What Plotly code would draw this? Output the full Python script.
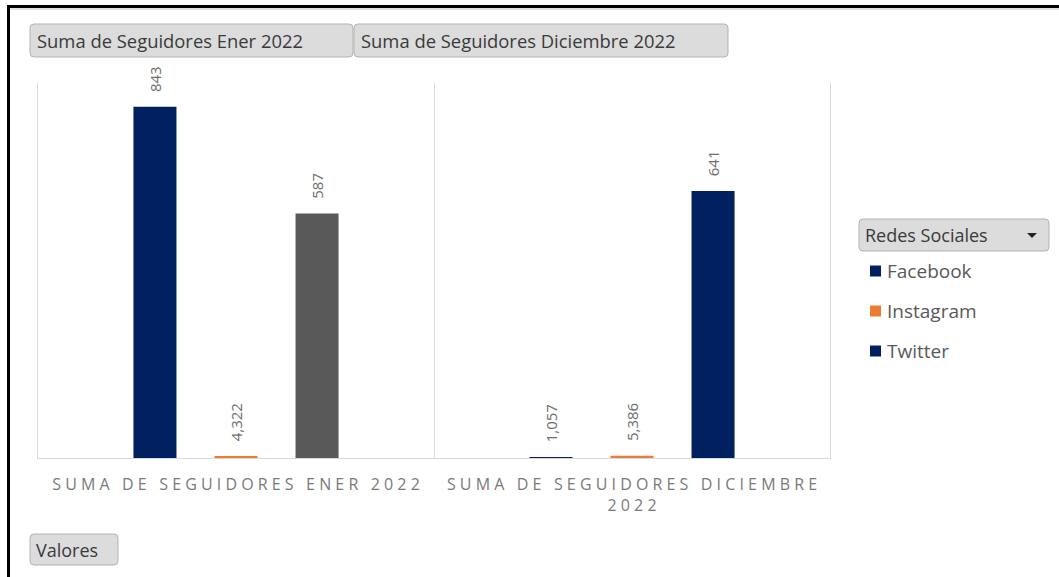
import plotly.graph_objects as go

# ---------------- data ----------------
categories = ["Suma de Seguidores Ener 2022", "Suma de Seguidores Diciembre 2022"]
tick_labels = ["SUMA DE SEGUIDORES ENER 2022", "SUMA DE SEGUIDORES DICIEMBRE<br>2022"]
series = ["Facebook", "Instagram", "Twitter"]
facebook = [843, 1.057]
instagram = [4.322, 5.386]
twitter = [587, 641]
series_values = [facebook, instagram, twitter]
bar_colors = [["#002060", "#002060"], ["#ED7D31", "#ED7D31"], ["#595959", "#002060"]]
legend_colors = ["#002060", "#ED7D31", "#002060"]
legend_title = "Redes Sociales"
filter_buttons = ["Suma de Seguidores Ener 2022", "Suma de Seguidores Diciembre 2022"]
axis_button = "Valores"
y_max = 900

# ---------------- helpers ----------------
W, H = 1059, 577
FONT = "Open Sans"


def px(x):
    return x / W


def py(y):
    return 1 - y / H


def fmt(v):
    return f"{v:g}".replace(".", ",")


def spaced(label):
    out = []
    for line in label.split("<br>"):
        words = ["\u00a0".join(list(w)) for w in line.split(" ")]
        out.append("\u00a0\u00a0\u00a0".join(words))
    return "<br>".join(out)


def rounded_rect(x0, y0, x1, y1, r=4):
    return (f"M {px(x0 + r)},{py(y0)} L {px(x1 - r)},{py(y0)} "
            f"Q {px(x1)},{py(y0)} {px(x1)},{py(y0 + r)} "
            f"L {px(x1)},{py(y1 - r)} Q {px(x1)},{py(y1)} {px(x1 - r)},{py(y1)} "
            f"L {px(x0 + r)},{py(y1)} Q {px(x0)},{py(y1)} {px(x0)},{py(y1 - r)} "
            f"L {px(x0)},{py(y0 + r)} Q {px(x0)},{py(y0)} {px(x0 + r)},{py(y0)} Z")


fig = go.Figure()
for name, vals, cols in zip(series, series_values, bar_colors):
    fig.add_trace(go.Bar(
        name=name, x=categories, y=vals,
        marker=dict(color=cols, line=dict(width=0)),
        text=["\u00a0\u00a0\u00a0" + fmt(v) for v in vals],
        textposition="outside", textangle=-90, constraintext="none",
        cliponaxis=False,
        textfont=dict(family=FONT, size=15, color="#6e6e6e"),
        showlegend=False,
    ))

shapes = []
annotations = []

# frame (cropped screenshot border)
shapes.append(dict(type="line", xref="paper", yref="paper", x0=px(7), x1=px(W), y0=py(6.5), y1=py(6.5),
                   line=dict(color="black", width=3)))
shapes.append(dict(type="line", xref="paper", yref="paper", x0=px(8.5), x1=px(8.5), y0=py(5), y1=py(H),
                   line=dict(color="black", width=3)))
shapes.append(dict(type="line", xref="paper", yref="paper", x0=px(10), x1=px(W), y0=py(9), y1=py(9),
                   line=dict(color="#d8d8d8", width=1.5)))

BTN_FILL = "#dcdcdc"
BTN_LINE = "#b3b3b3"
BTN_TEXT = "#3a3a3a"

# filter buttons at top
btn_boxes = [(30, 24, 353, 57), (354, 24, 728, 57)]
for label, (x0, y0, x1, y1) in zip(filter_buttons, btn_boxes):
    shapes.append(dict(type="path", xref="paper", yref="paper", path=rounded_rect(x0, y0, x1, y1),
                       fillcolor=BTN_FILL, line=dict(color=BTN_LINE, width=1)))
    annotations.append(dict(xref="paper", yref="paper", x=px(x0 + 5), y=py((y0 + y1) / 2),
                            xanchor="left", yanchor="middle", showarrow=False, text=label,
                            font=dict(family=FONT, size=18.4, color=BTN_TEXT)))

# axis field button
shapes.append(dict(type="path", xref="paper", yref="paper", path=rounded_rect(30, 534, 118, 565),
                   fillcolor=BTN_FILL, line=dict(color=BTN_LINE, width=1)))
annotations.append(dict(xref="paper", yref="paper", x=px(34), y=py(550), xanchor="left", yanchor="middle",
                        showarrow=False, text=axis_button, font=dict(family=FONT, size=18, color=BTN_TEXT)))

# legend
shapes.append(dict(type="path", xref="paper", yref="paper", path=rounded_rect(859, 219, 1049, 251),
                   fillcolor=BTN_FILL, line=dict(color=BTN_LINE, width=1)))
annotations.append(dict(xref="paper", yref="paper", x=px(863), y=py(235), xanchor="left", yanchor="middle",
                        showarrow=False, text=legend_title, font=dict(family=FONT, size=18, color=BTN_TEXT)))
shapes.append(dict(type="path", xref="paper", yref="paper",
                   path=f"M {px(1027)},{py(233)} L {px(1037)},{py(233)} L {px(1032)},{py(238)} Z",
                   fillcolor="#222222", line=dict(width=0)))
for i, (name, col) in enumerate(zip(series, legend_colors)):
    yc = 271 + 40 * i
    shapes.append(dict(type="rect", xref="paper", yref="paper", x0=px(870), x1=px(881), y0=py(yc - 5.5),
                       y1=py(yc + 5.5), fillcolor=col, line=dict(width=0)))
    annotations.append(dict(xref="paper", yref="paper", x=px(885), y=py(yc), xanchor="left", yanchor="middle",
                            showarrow=False, text=name, font=dict(family=FONT, size=19, color="#595959")))

fig.update_layout(
    width=W, height=H,
    margin=dict(l=0, r=0, t=0, b=0),
    paper_bgcolor="white", plot_bgcolor="white",
    barmode="group", bargap=0.386, bargroupgap=0.469,
    showlegend=False,
    shapes=shapes, annotations=annotations,
    xaxis=dict(domain=[px(38), px(830)], type="category",
               tickvals=categories, ticktext=[spaced(t) for t in tick_labels],
               tickson="boundaries", showgrid=True, gridcolor="#d9d9d9", gridwidth=1,
               showline=True, linecolor="#d9d9d9", linewidth=1,
               ticks="", ticklabelstandoff=12,
               tickfont=dict(family=FONT, size=16, color="#7a7a7a"), tickangle=0),
    yaxis=dict(domain=[py(458), py(83)], range=[0, y_max], showgrid=False, zeroline=False,
               showticklabels=False, showline=True, mirror=True, linecolor="#d9d9d9", linewidth=1),
)

fig.write_html("out.html", config={"displayModeBar": False},
               post_script="document.body.style.margin='0';document.body.style.padding='0';")
